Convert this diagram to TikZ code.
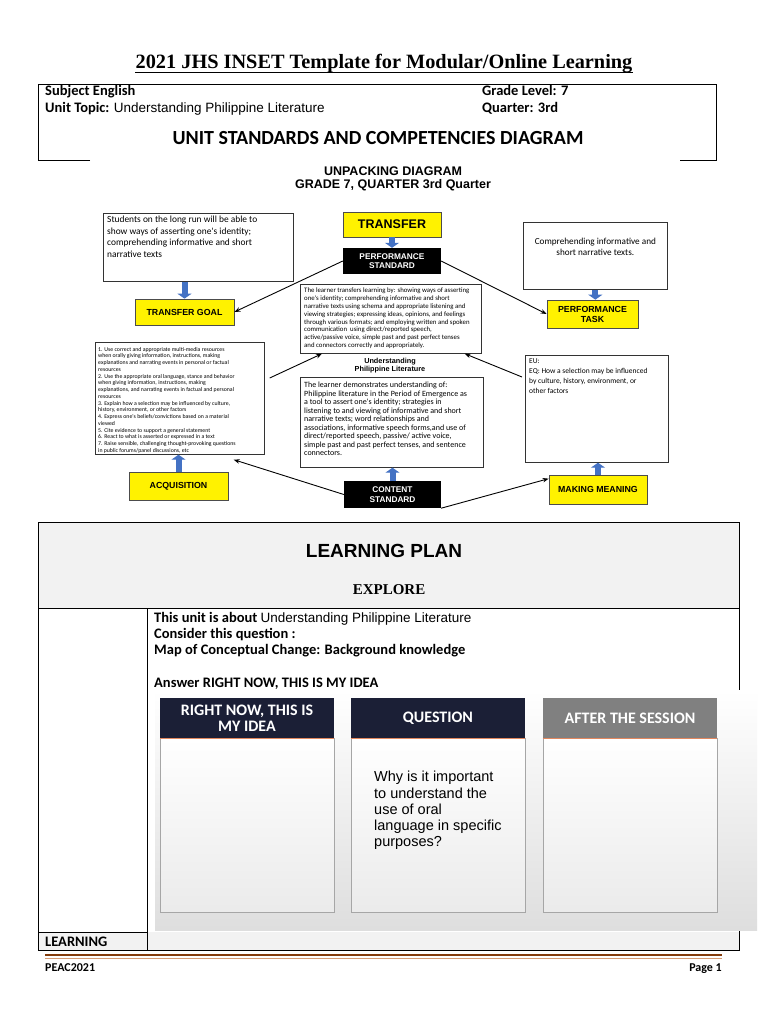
\documentclass[tikz,border=0pt]{standalone}
\usepackage{fontspec}
\setmainfont{Liberation Serif}
\newfontfamily\calib{Carlito}
\newfontfamily\arial{Liberation Sans}
\usetikzlibrary{arrows.meta,calc}
\newcommand\fsz[2]{\fontsize{#1}{#2}\selectfont}
\definecolor{navy}{HTML}{1B1F36}
\definecolor{blueA}{HTML}{4472C4}
\definecolor{hdrgray}{HTML}{F2F2F2}
\definecolor{brownA}{HTML}{843C0C}
\definecolor{brownB}{HTML}{D59B74}
\definecolor{pgray}{HTML}{808080}
\definecolor{orangeL}{HTML}{E2885F}
\tikzset{
  ybox/.style={draw=black!70, fill=yellow, line width=0.7pt, inner sep=0pt, align=center, font=\arial\bfseries\fsz{8.8}{10}},
  kbox/.style={fill=black, text=white, inner sep=0pt, align=center, font=\arial\bfseries\fsz{8.3}{9.5}},
  tbox/.style={draw=black!80, fill=white, line width=0.7pt, inner sep=0pt, anchor=north west},
  txt/.style={inner sep=0pt, anchor=north west, align=left},
  conn/.style={-{Stealth[length=6pt,width=4.5pt]}, line width=0.9pt},
  barrow/.style={draw=blueA, line width=6pt, -{Triangle[length=5pt,width=14pt]}},
  phead/.style={inner sep=0pt, minimum width=174pt, minimum height=40pt, text=white, align=center, font=\calib\bfseries\fsz{16}{16.5}},
  pbody/.style={draw=black!35, line width=0.7pt, top color=white, bottom color=black!8, minimum width=174pt, minimum height=174pt, inner sep=0pt},
  lbl/.style={inner sep=0pt, anchor=base west}
}
\begin{document}
\begin{tikzpicture}[x=1pt,y=-1pt]
\fill[white] (0,0) rectangle (768,1024);
\useasboundingbox (0,0) rectangle (768,1024);

% title
\node[font=\bfseries\fsz{20.3}{22}, anchor=base, inner sep=0pt] (title) at (384,69) {2021 JHS INSET Template for Modular/Online Learning};
\draw[line width=0.9pt] ($(title.base west)+(0,3)$) -- ($(title.base east)+(0,3)$);

% header box
\draw[line width=0.8pt] (90,160) -- (38,160) -- (38,84) -- (716,84) -- (716,160) -- (680,160);
\node[lbl, font=\calib\bfseries\fsz{14.5}{16}] (subj) at (45,96) {Subject English};
\node[lbl, font=\calib\bfseries\fsz{14.5}{16}] (topic) at (45,113) {Unit Topic: {\arial\mdseries\fsz{13.5}{16}Understanding Philippine Literature}};
\node[lbl, font=\calib\bfseries\fsz{14.5}{16}] (grade) at (482,96) {Grade Level: 7};
\node[lbl, font=\calib\bfseries\fsz{14.5}{16}] (quarter) at (482,113) {Quarter: 3rd};
\node[inner sep=0pt, font=\calib\bfseries\fsz{20}{22}] (usc) at (378,138) {UNIT STANDARDS AND COMPETENCIES DIAGRAM};

% unpacking diagram
\node[inner sep=0pt, align=center, font=\arial\bfseries\fsz{12.5}{13.5}] (unp) at (393,179) {UNPACKING DIAGRAM\\GRADE 7, QUARTER 3rd Quarter};

\node[ybox, minimum width=98pt, minimum height=25pt, font=\arial\bfseries\fsz{12.5}{14}] (transfer) at (392,224.5) {TRANSFER};
\node[kbox, minimum width=98pt, minimum height=26pt] (ps) at (392,261) {PERFORMANCE\\STANDARD};
\node[ybox, minimum width=99pt, minimum height=26pt] (tg) at (184.5,312) {TRANSFER GOAL};
\node[ybox, minimum width=91pt, minimum height=28pt] (pt) at (592.5,314) {PERFORMANCE\\TASK};
\node[ybox, minimum width=99pt, minimum height=28pt] (acq) at (178.5,486) {ACQUISITION};
\node[kbox, minimum width=97pt, minimum height=27pt] (cs) at (392.5,494.5) {CONTENT\\STANDARD};
\node[ybox, minimum width=98pt, minimum height=29pt] (mm) at (598,489.5) {MAKING MEANING};

% text boxes
\node[tbox, minimum width=190pt, minimum height=68pt] (tl) at (103,213) {};
\node[txt, font=\calib\fsz{9.4}{11.5}] (tltxt) at ($(tl.north west)+(4,3)$) {Students on the long run will be able to\\show ways of asserting one's identity;\\comprehending informative and short\\narrative texts};

\node[tbox, minimum width=144pt, minimum height=67pt] (tr) at (523,222) {};
\node[inner sep=0pt, align=center, font=\calib\fsz{9.2}{11.5}] (trtxt) at ($(tr.north)+(0,25)$) {Comprehending informative and\\short narrative texts.};

\node[tbox, minimum width=181pt, minimum height=69pt] (ctop) at (300,284) {};
\node[txt, font=\calib\fsz{6.8}{7.8}] (ctoptxt) at ($(ctop.north west)+(4,4)$) {The learner transfers learning by: showing ways of asserting\\one's identity; comprehending informative and short\\narrative texts using schema and appropriate listening and\\viewing strategies; expressing ideas, opinions, and feelings\\through various formats; and employing written and spoken\\communication\ \ using direct/reported speech,\\active/passive voice, simple past and past perfect tenses\\and connectors correctly and appropriately.};

\node[inner sep=0pt, align=center, font=\arial\bfseries\fsz{7.3}{7.5}] (und) at (390,365.5) {Understanding\\Philippine Literature};

\node[tbox, minimum width=183pt, minimum height=90pt] (cbot) at (300,377) {};
\node[txt, font=\calib\fsz{8}{8.5}] (cbottxt) at ($(cbot.north west)+(4,5)$) {The learner demonstrates understanding of:\\Philippine literature in the Period of Emergence as\\a tool to assert one's identity; strategies in\\listening to and viewing of informative and short\\narrative texts; word relationships and\\associations, informative speech forms,and use of\\direct/reported speech, passive/ active voice,\\simple past and past perfect tenses, and sentence\\connectors.};

\node[tbox, minimum width=169pt, minimum height=112pt] (lbox) at (95,342) {};
\node[txt, font=\calib\fsz{5.8}{6.75}] (lboxtxt) at ($(lbox.north west)+(3,5)$) {1. Use correct and appropriate multi-media resources\\when orally giving information, instructions, making\\explanations and narrating events in personal or factual\\resources\\2. Use the appropriate oral language, stance and behavior\\when giving information, instructions, making\\explanations, and narrating events in factual and personal\\resources\\3. Explain how a selection may be influenced by culture,\\history, environment, or other factors\\4. Express one's beliefs/convictions based on a material\\viewed\\5. Cite evidence to support a general statement\\6. React to what is asserted or expressed in a text\\7. Raise sensible, challenging thought-provoking questions\\in public forums/panel discussions, etc};

\node[tbox, minimum width=143pt, minimum height=107pt] (eu) at (525,355) {};
\node[txt, font=\calib\fsz{7.5}{10}] (eutxt) at ($(eu.north west)+(4,3)$) {EU:\\EQ: How a selection may be influenced\\by culture, history, environment, or\\other factors};

% connectors
\draw[conn] (ps.west) -- (tg.east);
\draw[conn] (ps.east) -- (pt.west);
\draw[conn] (cs.west) -- ([xshift=-31pt,yshift=-5pt]lbox.south east);
\draw[conn] (cs.south east) -- ([yshift=-4pt]mm.north west);
\draw[conn] ([xshift=5pt,yshift=-36pt]lbox.north east) -- ([xshift=22pt]ctop.south west);
\draw[conn] ([xshift=-3pt,yshift=-22pt]eu.north west) -- ([xshift=-17pt]ctop.south east);

% blue block arrows
\draw[barrow] (transfer.south) -- (ps.north);
\draw[barrow] (tl.south -| tg.north) -- (tg.north);
\draw[barrow] (tr.south) -- (tr.south |- pt.north);
\draw[barrow] (acq.north) -- (acq.north |- lbox.south);
\draw[barrow] (cs.north) -- (cs.north |- cbot.south);
\draw[barrow] (mm.north) -- (mm.north |- eu.south);

% learning plan table
\fill[hdrgray] (38,522) rectangle (739,608);
\fill[hdrgray] (38,932) rectangle (739,950);
\draw[line width=0.8pt] (38,522) rectangle (739,950);
\draw[line width=0.8pt] (38,608) -- (739,608);
\draw[line width=0.8pt] (147,608) -- (147,950);
\draw[line width=0.8pt] (38,932) -- (147,932);
\node[inner sep=0pt, font=\arial\bfseries\fsz{19}{21}] (lp) at (384,551) {LEARNING PLAN};
\node[inner sep=0pt, font=\bfseries\fsz{15}{17}] (explore) at (389,590) {EXPLORE};
\node[lbl, font=\calib\bfseries\fsz{14.5}{16}] (l1) at (154,622) {This unit is about {\arial\mdseries\fsz{13.5}{16}Understanding Philippine Literature}};
\node[lbl, font=\calib\bfseries\fsz{14.5}{16}] (l2) at (154,638) {Consider this question :};
\node[lbl, font=\calib\bfseries\fsz{14.5}{16}] (l3) at (154,654) {Map of Conceptual Change: Background knowledge};
\node[lbl, font=\calib\bfseries\fsz{14.5}{16}] (l4) at (154,687) {Answer RIGHT NOW, THIS IS MY IDEA};
\node[lbl, font=\calib\bfseries\fsz{14.5}{16}] (learn) at (45,946) {LEARNING};

% panels image
\shade[top color=white, bottom color=black!13] (155,690) rectangle (757,930);
\node[phead, fill=navy] (h1) at (247,718) {RIGHT NOW, THIS IS\\MY IDEA};
\node[phead, fill=navy] (h2) at (438,718) {QUESTION};
\node[phead, fill=pgray] (h3) at (630,718) {AFTER THE SESSION};
\node[pbody] (b1) at (247,825) {};
\node[pbody] (b2) at (438,825) {};
\node[pbody] (b3) at (630,825) {};
\draw[orangeL, line width=0.8pt] (h1.south west) -- (h1.south east);
\draw[orangeL, line width=0.8pt] (h2.south west) -- (h2.south east);
\draw[orangeL, line width=0.8pt] (h3.south west) -- (h3.south east);
\node[txt, font=\arial\fsz{14.5}{16.3}] (q) at (374,771) {Why is it important\\to understand the\\use of oral\\language in specific\\purposes?};

% footer
\draw[brownA, line width=2pt] (45,955) -- (722,955);
\draw[brownB, line width=1.5pt] (45,958.5) -- (722,958.5);
\node[lbl, font=\calib\bfseries\fsz{12}{14}] (peac) at (45,971) {PEAC2021};
\node[inner sep=0pt, anchor=base east, font=\calib\bfseries\fsz{12}{14}] (page) at (722,971) {Page 1};
\end{tikzpicture}
\end{document}
